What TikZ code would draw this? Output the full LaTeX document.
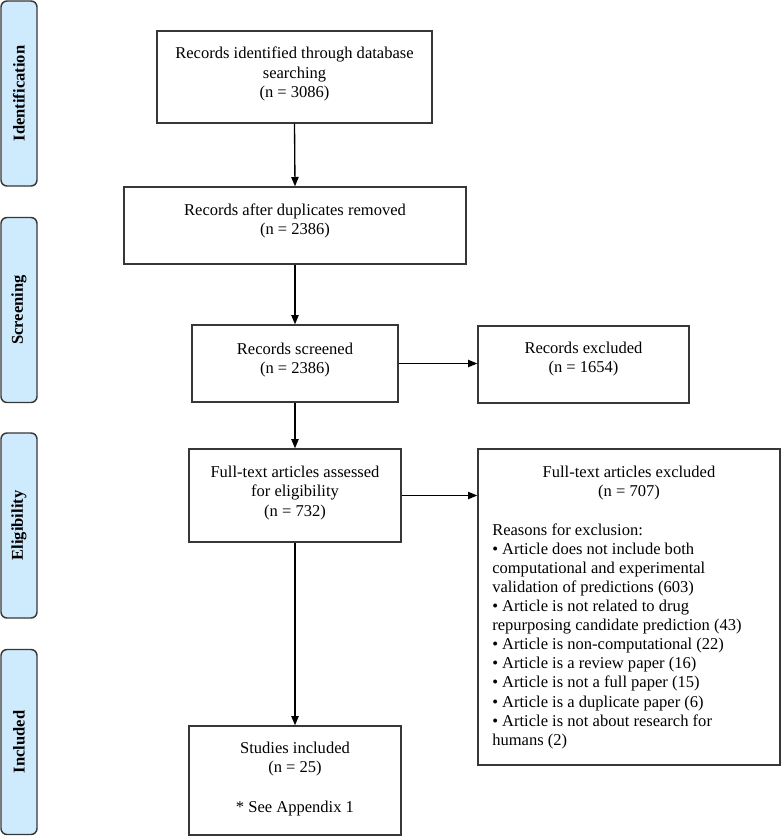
\documentclass[tikz,border=0pt]{standalone}
\usepackage{fontspec}
\setmainfont{Liberation Serif}
\usetikzlibrary{arrows.meta}
\definecolor{barfill}{RGB}{206,234,253}
\definecolor{edge}{RGB}{55,55,55}
\begin{document}
\begin{tikzpicture}[x=0.75pt,y=-0.75pt,
  box/.style={draw=edge,line width=1pt,rectangle,inner sep=0pt},
  txt/.style={inner sep=0pt,anchor=north,align=center,font=\fontsize{12.4}{14.6}\selectfont},
  listtxt/.style={inner sep=0pt,anchor=north west,align=left,font=\fontsize{12.4}{14.3}\selectfont},
  phase/.style={draw=edge,line width=1.1pt,fill=barfill,rounded corners=4.5pt,rotate=90,
    minimum width=138.75pt,minimum height=27pt,inner sep=0pt,font=\fontsize{12.4}{14.6}\selectfont\bfseries},
  arr/.style={draw=black,line width=1pt,-{Triangle[length=7pt,width=5.5pt]}}]
\useasboundingbox (0,0) rectangle (781,836);
% phase bars
\node[phase] (p1) at (19,93.5) {Identification};
\node[phase] (p2) at (19,310) {Screening};
\node[phase] (p3) at (19,525.5) {Eligibility};
\node[phase] (p4) at (19,742) {Included};
% boxes
\node[box,minimum width=206.25pt,minimum height=69pt] (b1) at (294.5,77) {};
\node[box,minimum width=256.5pt,minimum height=57.75pt] (b2) at (295,225.5) {};
\node[box,minimum width=154.5pt,minimum height=57.75pt] (b3) at (295,363.5) {};
\node[box,minimum width=158.25pt,minimum height=57.75pt] (b4) at (583.5,364.5) {};
\node[box,minimum width=159pt,minimum height=69.75pt] (b5) at (295,495.5) {};
\node[box,minimum width=159pt,minimum height=81.75pt] (b6) at (295,780.5) {};
\node[box,minimum width=226.5pt,minimum height=237pt] (b7) at (629,607) {};
% texts
\node[txt] (t1) at (294.5,47) {Records identified through database\\searching\\(n = 3086)};
\node[txt] (t2) at (295,203.5) {Records after duplicates removed\\(n = 2386)};
\node[txt] (t3) at (295,342.5) {Records screened\\(n = 2386)};
\node[txt] (t4) at (583.5,341.5) {Records excluded\\(n = 1654)};
\node[txt] (t5) at (295,465.5) {Full-text articles assessed\\for eligibility\\(n = 732)};
\node[txt] (t6) at (295,741.5) {Studies included\\(n = 25)\\[15pt]* See Appendix 1};
\node[txt] (t7) at (629,465.5) {Full-text articles excluded\\(n = 707)};
\node[listtxt] (t8) at (492,523.5) {Reasons for exclusion:\\
• Article does not include both\\
computational and experimental\\
validation of predictions (603)\\
• Article is not related to drug\\
repurposing candidate prediction (43)\\
• Article is non-computational (22)\\
• Article is a review paper (16)\\
• Article is not a full paper (15)\\
• Article is a duplicate paper (6)\\
• Article is not about research for\\
humans (2)};
% arrows
\draw[arr] (b1.south) -- (b2.north);
\draw[arr] (b2.south) -- (b3.north);
\draw[arr] (b3.east) -- (b3.east -| b4.west);
\draw[arr] (b3.south) -- (b5.north);
\draw[arr] (b5.east) -- (b5.east -| b7.west);
\draw[arr] (b5.south) -- (b6.north);
\end{tikzpicture}
\end{document}
